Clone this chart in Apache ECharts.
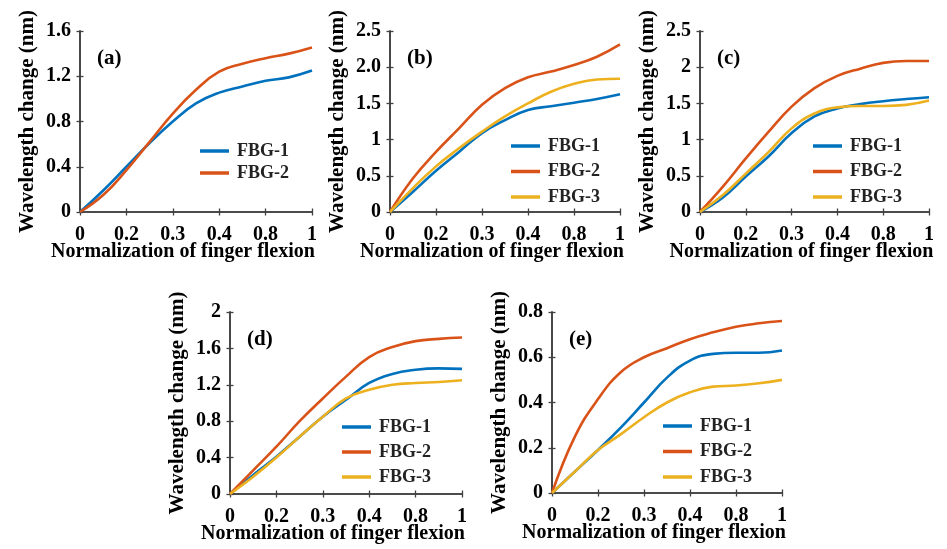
<!DOCTYPE html>
<html>
<head>
<meta charset="utf-8">
<script src="https://cdn.jsdelivr.net/npm/echarts@6/dist/echarts.min.js"></script>
<style>
html,body{margin:0;padding:0;background:#fff;}
#chart{width:947px;height:549px;}
</style>
</head>
<body>
<div id="chart"></div>
<script>
// ---- data ----
const xTickLabels = ['0', '0.2', '0.3', '0.4', '0.8', '1'];
const xPos = [0, 0.5, 1, 1.5, 2, 2.5, 3, 3.5, 4, 4.5, 5];
const seriesNames = ['FBG-1', 'FBG-2', 'FBG-3'];

const aFBG1 = [0, 0.19, 0.40, 0.61, 0.80, 0.96, 1.055, 1.11, 1.16, 1.19, 1.25];
const aFBG2 = [0, 0.15, 0.37, 0.62, 0.87, 1.08, 1.24, 1.31, 1.36, 1.40, 1.455];

const bFBG1 = [0, 0.28, 0.57, 0.83, 1.09, 1.27, 1.41, 1.46, 1.51, 1.56, 1.625];
const bFBG2 = [0, 0.465, 0.83, 1.155, 1.48, 1.71, 1.86, 1.94, 2.03, 2.145, 2.315];
const bFBG3 = [0, 0.33, 0.63, 0.88, 1.11, 1.32, 1.50, 1.66, 1.77, 1.83, 1.84];

const cFBG1 = [0, 0.20, 0.49, 0.77, 1.09, 1.32, 1.43, 1.49, 1.53, 1.56, 1.585];
const cFBG2 = [0, 0.35, 0.74, 1.11, 1.455, 1.71, 1.88, 1.98, 2.06, 2.085, 2.085];
const cFBG3 = [0, 0.235, 0.53, 0.83, 1.155, 1.36, 1.445, 1.465, 1.465, 1.48, 1.54];

const dFBG1 = [0, 0.21, 0.41, 0.63, 0.85, 1.035, 1.22, 1.32, 1.365, 1.38, 1.375];
const dFBG2 = [0, 0.26, 0.52, 0.80, 1.05, 1.29, 1.505, 1.615, 1.68, 1.705, 1.72];
const dFBG3 = [0, 0.19, 0.40, 0.63, 0.85, 1.05, 1.145, 1.20, 1.22, 1.23, 1.25];

const eFBG1 = [0, 0.095, 0.19, 0.29, 0.40, 0.51, 0.585, 0.615, 0.62, 0.62, 0.63];
const eFBG2 = [0, 0.25, 0.415, 0.535, 0.60, 0.64, 0.68, 0.71, 0.735, 0.75, 0.76];
const eFBG3 = [0, 0.095, 0.19, 0.26, 0.335, 0.40, 0.445, 0.47, 0.475, 0.485, 0.50];

const yTicksA = ['0', '0.4', '0.8', '1.2', '1.6'];
const yTicksB = ['0', '0.5', '1', '1.5', '2.0', '2.5'];
const yTicksC = ['0', '0.5', '1', '1.5', '2', '2.5'];
const yTicksD = ['0', '0.4', '0.8', '1.2', '1.6', '2'];
const yTicksE = ['0', '0.2', '0.4', '0.6', '0.8'];

const panelLabels = ['(a)', '(b)', '(c)', '(d)', '(e)'];
const xTitle = 'Normalization of finger flexion';
const yTitle = 'Wavelength change (nm)';

// ---- layout / style ----
const colors = ['#0072BD', '#D95319', '#EDB120'];
const FONT = '"Liberation Serif", "Times New Roman", serif';
const AX = '#404040';

const panels = [
  {label: panelLabels[0], series: [aFBG1, aFBG2], yTicks: yTicksA, yInt: 0.4,
   grid: {left: 80, top: 31, width: 232, height: 181}, legend: {left: 200, top: 142, gap: 4}},
  {label: panelLabels[1], series: [bFBG1, bFBG2, bFBG3], yTicks: yTicksB, yInt: 0.5,
   grid: {left: 390, top: 31, width: 230, height: 181}, legend: {left: 511, top: 137, gap: 7.5}},
  {label: panelLabels[2], series: [cFBG1, cFBG2, cFBG3], yTicks: yTicksC, yInt: 0.5,
   grid: {left: 700, top: 31, width: 229, height: 181}, legend: {left: 813, top: 137, gap: 7.5}},
  {label: panelLabels[3], series: [dFBG1, dFBG2, dFBG3], yTicks: yTicksD, yInt: 0.4,
   grid: {left: 230, top: 312, width: 232, height: 182}, legend: {left: 342, top: 418, gap: 7}},
  {label: panelLabels[4], series: [eFBG1, eFBG2, eFBG3], yTicks: yTicksE, yInt: 0.2,
   grid: {left: 552, top: 312, width: 230, height: 181}, legend: {left: 663, top: 417, gap: 7.5}}
];

const option = {
  backgroundColor: '#ffffff',
  animation: false,
  textStyle: {fontFamily: FONT},
  grid: [], xAxis: [], yAxis: [], series: [], legend: [], title: []
};

function richStyle(size) {
  return {t: {fontFamily: FONT, fontWeight: 'bold', fontSize: size, color: '#000'}};
}

panels.forEach((p, i) => {
  option.grid.push(Object.assign({}, p.grid));
  const yMax = p.yInt * (p.yTicks.length - 1);
  const tickStyle = {show: true, inside: true, length: 3.5, lineStyle: {color: AX, width: 1.3}};
  const lineStyle = {show: true, lineStyle: {color: AX, width: 1.6}};
  option.xAxis.push({
    gridIndex: i, type: 'value', min: 0, max: 5, interval: 1,
    axisLine: lineStyle, axisTick: tickStyle, splitLine: {show: false},
    axisLabel: {margin: 13, fontFamily: FONT, fontWeight: 'bold', fontSize: 20, color: '#000',
      formatter: v => '{t|' + xTickLabels[Math.round(v)] + '}', rich: richStyle(20)},
    name: '{t|' + xTitle + '}', nameLocation: 'middle', nameGap: 30, nameMoveOverlap: false,
    nameTextStyle: {fontFamily: FONT, fontWeight: 'bold', fontSize: 20, color: '#000',
      padding: [0, 26, 0, 0], rich: richStyle(20)}
  });
  option.xAxis.push({
    gridIndex: i, type: 'value', min: 0, max: 5, interval: 1, position: 'top',
    axisLine: lineStyle, axisTick: tickStyle, splitLine: {show: false}, axisLabel: {show: false}
  });
  option.yAxis.push({
    gridIndex: i, type: 'value', min: 0, max: yMax, interval: p.yInt,
    axisLine: lineStyle, axisTick: tickStyle, splitLine: {show: false},
    axisLabel: {margin: 9, fontFamily: FONT, fontWeight: 'bold', fontSize: 20, color: '#000',
      formatter: v => '{t|' + p.yTicks[Math.round(v / p.yInt)] + '}', rich: richStyle(20)},
    name: '{t|' + yTitle + '}', nameLocation: 'middle', nameGap: 42,
    nameTextStyle: {fontFamily: FONT, fontWeight: 'bold', fontSize: 21, color: '#000', rich: richStyle(21)}
  });
  option.yAxis.push({
    gridIndex: i, type: 'value', min: 0, max: yMax, interval: p.yInt, position: 'right',
    axisLine: lineStyle, axisTick: tickStyle, splitLine: {show: false}, axisLabel: {show: false}
  });
  const names = [];
  p.series.forEach((vals, k) => {
    names.push(seriesNames[k]);
    option.series.push({
      type: 'line', name: seriesNames[k], xAxisIndex: 2 * i, yAxisIndex: 2 * i,
      data: vals.map((v, j) => [xPos[j], v]),
      smooth: 0.45, symbol: 'none', clip: true,
      lineStyle: {color: colors[k], width: 2.6}, itemStyle: {color: colors[k]}
    });
  });
  option.legend.push({
    data: names, orient: 'vertical', left: p.legend.left, top: p.legend.top,
    itemWidth: 29, itemHeight: 3.5, itemGap: p.legend.gap, icon: 'rect',
    padding: 0, selectedMode: false,
    textStyle: {fontFamily: FONT, fontWeight: 'bold', fontSize: 18, color: '#222', padding: [0, 0, 0, 3]}
  });
  option.title.push({
    text: p.label, left: p.grid.left + 17, top: p.grid.top + 17, padding: 0,
    textStyle: {fontFamily: FONT, fontWeight: 'bold', fontSize: 21, color: '#000'}
  });
});

const chart = echarts.init(document.getElementById('chart'), null, {renderer: 'canvas'});
chart.setOption(option);
</script>
</body>
</html>
